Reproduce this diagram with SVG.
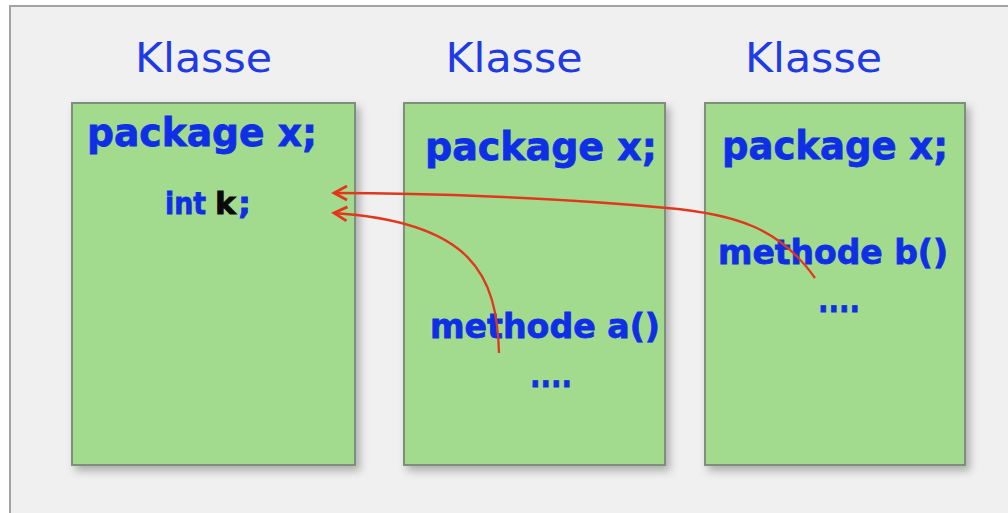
<svg xmlns="http://www.w3.org/2000/svg" width="1008" height="513" viewBox="0 0 1008 513">
  <defs>
    <filter id="shadow" x="-10%" y="-10%" width="130%" height="130%">
      <feDropShadow dx="4" dy="5" stdDeviation="4" flood-color="#000" flood-opacity="0.28"/>
    </filter>
    <marker id="chevron" markerWidth="18" markerHeight="18" refX="15" refY="9" orient="auto" markerUnits="userSpaceOnUse">
      <path d="M2,2 L15,9 L2,16" fill="none" stroke="#e8331c" stroke-width="2.8" stroke-linejoin="miter"/>
    </marker>
    <style>
      .title { font-family: "DejaVu Sans", Verdana, sans-serif; font-size: 41px; fill: #1f3be3; }
      .code { font-family: "DejaVu Sans", Verdana, sans-serif; font-weight: bold; fill: #0f2fe6; stroke: #0f2fe6; stroke-width: 0.8px; }
      .ident { fill: #0a0a0a; stroke: #0a0a0a; }
      .box { fill: #a3db8e; stroke: #7f8f7b; stroke-width: 2; filter: url(#shadow); }
      .link { fill: none; stroke: #e0381c; stroke-width: 2.3; marker-end: url(#chevron); }
    </style>
  </defs>

  <!-- background and frame -->
  <rect x="0" y="0" width="1008" height="513" fill="#ffffff"/>
  <rect x="10" y="6" width="1010" height="520" fill="#f0f0f0" stroke="#a3a3a3" stroke-width="2"/>

  <!-- class holding the field -->
  <g id="klasse-k">
    <text class="title" x="203.5" y="72" text-anchor="middle" textLength="137" lengthAdjust="spacingAndGlyphs">Klasse</text>
    <rect class="box" x="72" y="103" width="283" height="362"/>
    <text class="code" x="87" y="146" font-size="39" textLength="230" lengthAdjust="spacingAndGlyphs">package x;</text>
    <text class="code" x="165" y="214" font-size="30" textLength="41" lengthAdjust="spacingAndGlyphs">int</text>
    <text class="code ident" x="215" y="214" font-size="30" textLength="21" lengthAdjust="spacingAndGlyphs">k</text>
    <text class="code" x="238" y="214" font-size="30" textLength="13" lengthAdjust="spacingAndGlyphs">;</text>
  </g>

  <!-- class with methode a() -->
  <g id="klasse-a">
    <text class="title" x="514" y="72" text-anchor="middle" textLength="137" lengthAdjust="spacingAndGlyphs">Klasse</text>
    <rect class="box" x="404" y="103" width="261" height="362"/>
    <text class="code" x="425" y="160" font-size="39" textLength="232" lengthAdjust="spacingAndGlyphs">package x;</text>
    <text class="code" x="430" y="338" font-size="34" textLength="230" lengthAdjust="spacingAndGlyphs">methode a()</text>
    <text class="code" x="530" y="387" font-size="34" textLength="42" lengthAdjust="spacingAndGlyphs">....</text>
  </g>

  <!-- class with methode b() -->
  <g id="klasse-b">
    <text class="title" x="813.5" y="72" text-anchor="middle" textLength="137" lengthAdjust="spacingAndGlyphs">Klasse</text>
    <rect class="box" x="705" y="103" width="260" height="362"/>
    <text class="code" x="722" y="159" font-size="39" textLength="226" lengthAdjust="spacingAndGlyphs">package x;</text>
    <text class="code" x="718" y="264" font-size="34" textLength="230" lengthAdjust="spacingAndGlyphs">methode b()</text>
    <text class="code" x="818" y="312" font-size="34" textLength="42" lengthAdjust="spacingAndGlyphs">....</text>
  </g>

  <!-- accesses to k -->
  <g id="connectors">
    <path class="link" d="M815,278 C780,228 735,214 667,208 C560,198 430,193 334,193"/>
    <path class="link" d="M499,353 C497,275 472,222 334,213"/>
  </g>
</svg>
